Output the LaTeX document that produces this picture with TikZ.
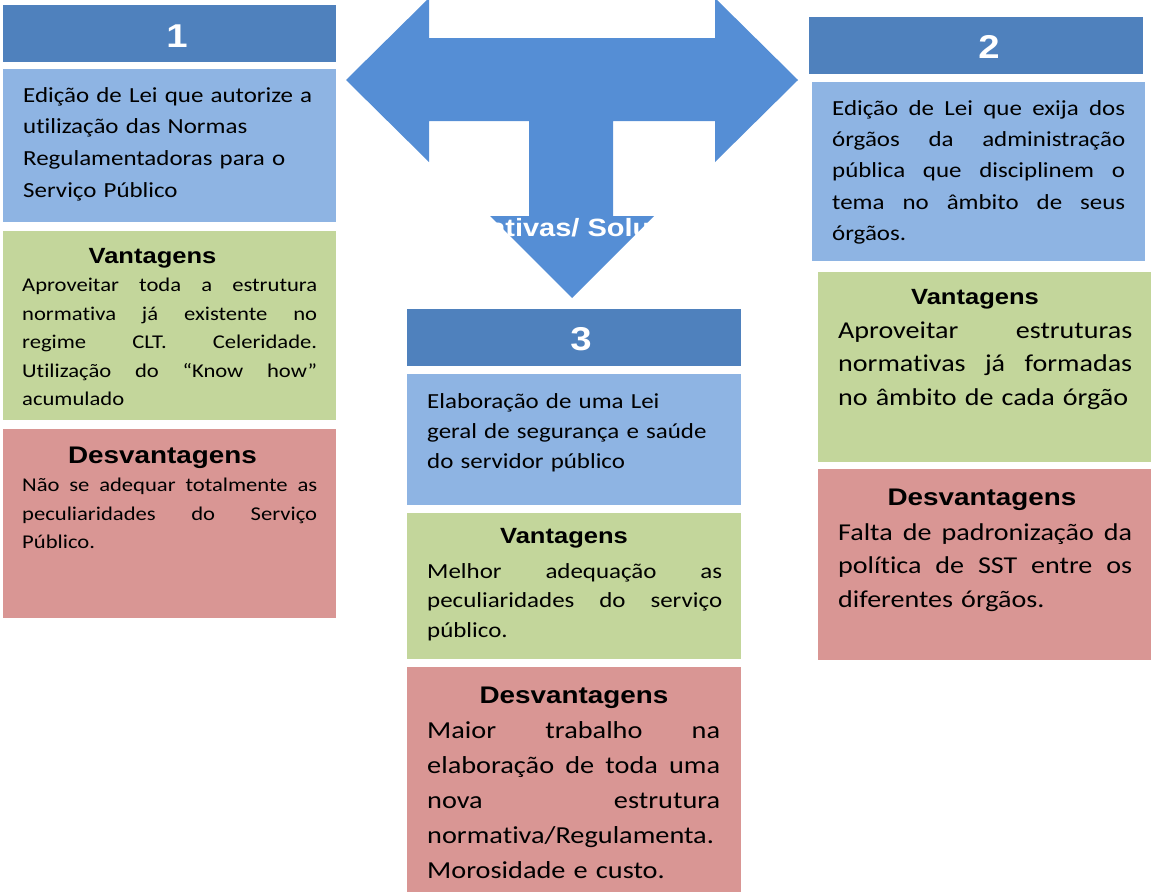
\documentclass[tikz,border=0pt]{standalone}
\usepackage{fontspec}
\setmainfont{Carlito}[FakeStretch=1.16,Ligatures=NoCommon]
\newfontfamily\headfont{Liberation Sans}[FakeStretch=1.16]
\definecolor{hdrblue}{RGB}{79,129,189}
\definecolor{arrowblue}{RGB}{85,142,213}
\definecolor{descblue}{RGB}{142,180,227}
\definecolor{vantgreen}{RGB}{195,214,155}
\definecolor{desvred}{RGB}{217,150,148}
% justified line
\newcommand{\jl}[1]{\makebox[\hsize][s]{\spaceskip=.25em plus 1fil\relax #1}}
\tikzset{
  panel/.style={anchor=north west, inner sep=0pt, outer sep=0pt},
  hdr/.style={panel, fill=hdrblue},
  desc/.style={panel, fill=descblue},
  vant/.style={panel, fill=vantgreen},
  desv/.style={panel, fill=desvred},
  num/.style={anchor=base, inner sep=0pt, text=white, font=\headfont\bfseries\fontsize{33}{33}\selectfont},
  ttl/.style={anchor=base, inner sep=0pt, font=\headfont\bfseries\fontsize{#1}{#1}\selectfont},
  body/.style 2 args={anchor=north west, inner sep=0pt, align=left, font=\fontsize{#1}{#2}\selectfont,
    execute at begin node={\noindent\rule{0pt}{20pt}}}
}
\begin{document}
\begin{tikzpicture}[x=1pt,y=-1pt]
\useasboundingbox (0,0) rectangle (1151,892);

%Shape: T arrow
\fill[arrowblue] (346,80) -- (429,-2) -- (429,38) -- (715,38) -- (715,-2) -- (798,80) -- (715,162) -- (715,121)
  -- (613,121) -- (613,216) -- (654,216) -- (572,298) -- (490,216) -- (529,216) -- (529,121)
  -- (429,121) -- (429,162) -- cycle;
% Text Node
\node[anchor=base, inner sep=0pt, text=white, font=\headfont\bfseries\fontsize{25}{25}\selectfont] (alt) at (561,236) {Alternativas/ Soluções};

%Boxes: 1
\node[hdr, minimum width=333pt, minimum height=57pt] (hdr1) at (3,5) {};
\node[desc, minimum width=333pt, minimum height=153pt] (desc1) at (3,69) {};
\node[vant, minimum width=333pt, minimum height=189pt] (vant1) at (3,231) {};
\node[desv, minimum width=333pt, minimum height=189pt] (desv1) at (3,429) {};
%Boxes: 2
\node[hdr, minimum width=334pt, minimum height=57pt] (hdr2) at (809,17) {};
\node[desc, minimum width=333pt, minimum height=179pt] (desc2) at (812,82) {};
\node[vant, minimum width=333pt, minimum height=190pt] (vant2) at (818,272) {};
\node[desv, minimum width=333pt, minimum height=191pt] (desv2) at (818,469) {};
%Boxes: 3
\node[hdr, minimum width=334pt, minimum height=57pt] (hdr3) at (407,309) {};
\node[desc, minimum width=334pt, minimum height=131pt] (desc3) at (407,374) {};
\node[vant, minimum width=334pt, minimum height=146pt] (vant3) at (407,513) {};
\node[desv, minimum width=334pt, minimum height=225pt] (desv3) at (407,667) {};

% Text Node
\node[num] (n1) at (177,47) {1};
\node[num] (n2) at (989,58) {2};
\node[num] (n3) at (581,350) {3};

% Text Node
\node[ttl=22] (v1) at (152.5,263) {Vantagens};
\node[ttl=22] (v2) at (975,304) {Vantagens};
\node[ttl=22] (v3) at (564,543) {Vantagens};
\node[ttl=24] (d1) at (162.5,463) {Desvantagens};
\node[ttl=24] (d2) at (982,505) {Desvantagens};
\node[ttl=24] (d3) at (574,703) {Desvantagens};

% Text Node
\node[body={21.5}{31.7}, text width=305pt] (txt1) at (23,82) {Edição de Lei que autorize a\\ utilização das Normas\\ Regulamentadoras para o\\ Serviço Público};
\node[body={19.5}{28.4}, text width=295pt] (vtxt1) at (22,271.7) {\jl{Aproveitar toda a estrutura}\\ \jl{normativa já existente no}\\ \jl{regime CLT. Celeridade.}\\ \jl{Utilização do “Know how”}\\ acumulado};
\node[body={19.5}{28.3}, text width=295pt] (dtxt1) at (22,471.7) {\jl{Não se adequar totalmente as}\\ \jl{peculiaridades do Serviço}\\ Público.};

\node[body={21.5}{31.3}, text width=293pt] (txt2) at (832,95) {\jl{Edição de Lei que exija dos}\\ \jl{órgãos da administração}\\ \jl{pública que disciplinem o}\\ \jl{tema no âmbito de seus}\\ órgãos.};
\node[body={24.2}{33.4}, text width=294pt] (vtxt2) at (838,318) {\jl{Aproveitar estruturas}\\ \jl{normativas já formadas}\\ no âmbito de cada órgão};
\node[body={24.2}{33.5}, text width=294pt] (dtxt2) at (838,520) {\jl{Falta de padronização da}\\ \jl{política de SST entre os}\\ diferentes órgãos.};

\node[body={21.5}{30}, text width=300pt] (txt3) at (427,388) {Elaboração de uma Lei\\ geral de segurança e saúde\\ do servidor público};
\node[body={21.5}{29.5}, text width=295pt] (vtxt3) at (427,558) {\jl{Melhor adequação as}\\ \jl{peculiaridades do serviço}\\ público.};
\node[body={24.4}{35}, text width=293pt] (dtxt3) at (427,718) {\jl{Maior trabalho na}\\ \jl{elaboração de toda uma}\\ \jl{nova estrutura}\\ normativa/Regulamenta.\\ Morosidade e custo.};

\end{tikzpicture}
\end{document}
